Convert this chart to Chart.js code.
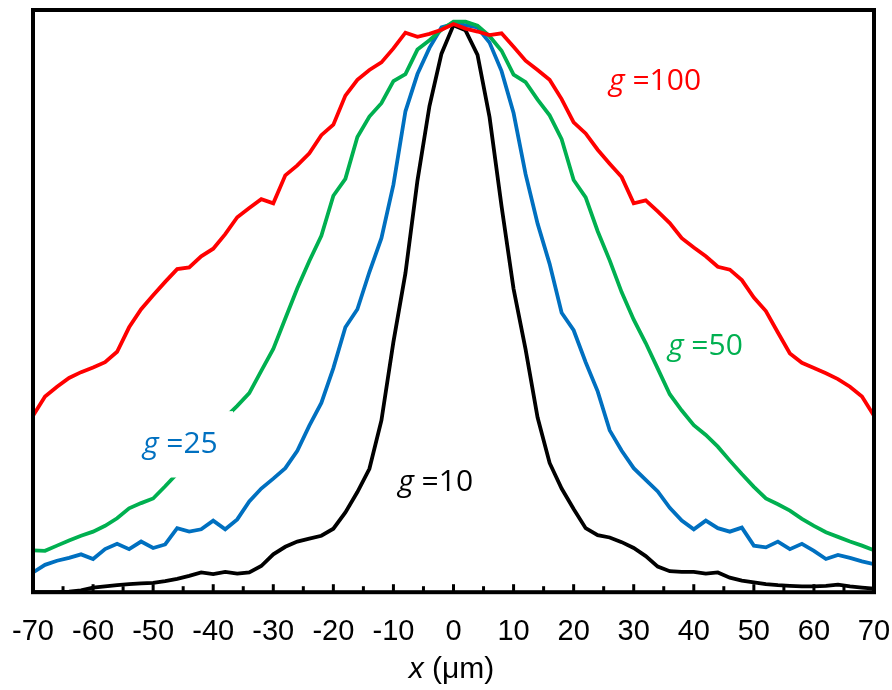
<!DOCTYPE html>
<html>
<head>
<meta charset="utf-8">
<script src="https://cdn.jsdelivr.net/npm/chart.js@4.4.1/dist/chart.umd.min.js"></script>
<style>
  html, body { margin: 0; padding: 0; background: #fff; }
  #wrap { width: 892px; height: 690px; }
</style>
</head>
<body>
<div id="wrap"><canvas id="profileChart"></canvas></div>
<script>
// position across the channel, µm
const xPos = [
  -70, -68, -66, -64, -62, -60, -58, -56, -54, -52, -50, -48, -46, -44, -42, -40, -38, -36,
  -34, -32, -30, -28, -26, -24, -22, -20, -18, -16, -14, -12, -10, -8, -6, -4, -2,
  0, 2, 4, 6, 8, 10, 12, 14, 16, 18, 20, 22, 24, 26, 28, 30, 32, 34,
  36, 38, 40, 42, 44, 46, 48, 50, 52, 54, 56, 58, 60, 62, 64, 66, 68, 70
];

// intensity profiles (arbitrary units, 0-100 box height)
const g100 = [
  30.3, 33.6, 35.3, 36.8, 37.8, 38.6, 39.5, 41.3, 45.5, 48.6, 51.0, 53.3, 55.5, 55.8, 57.7, 59.0, 61.5, 64.4,
  66.0, 67.5, 66.8, 71.6, 73.3, 75.4, 78.5, 80.3, 85.3, 88.0, 89.7, 91.0, 93.4, 96.1, 95.4, 95.9, 96.6,
  97.6, 96.8, 96.3, 95.7, 96.0, 93.7, 91.3, 89.7, 88.0, 84.7, 80.7, 78.8, 76.0, 73.6, 71.3, 66.8, 67.3, 65.4,
  63.4, 60.8, 59.2, 57.7, 55.9, 55.4, 53.6, 50.6, 48.3, 44.6, 41.0, 39.4, 38.5, 37.6, 36.6, 35.3, 33.6, 30.3
];
const g50 = [
  7.2, 7.1, 8.0, 8.9, 9.7, 10.4, 11.4, 12.7, 14.4, 15.3, 16.1, 18.2, 20.4, 22.8, 25.2, 27.6, 30.0, 32.0,
  34.2, 38.0, 41.8, 47.0, 52.2, 56.9, 61.2, 68.1, 71.0, 78.2, 81.7, 84.0, 87.8, 89.0, 93.2, 94.8, 96.6,
  98.0, 98.0, 97.3, 95.5, 93.0, 88.9, 87.6, 84.6, 81.9, 77.8, 70.8, 67.8, 62.0, 57.0, 51.5, 46.8, 42.8, 38.4,
  34.0, 31.2, 28.7, 27.0, 25.0, 22.6, 20.3, 18.1, 16.1, 15.1, 14.0, 12.6, 11.4, 10.3, 9.5, 8.7, 8.0, 7.2
];
const g25 = [
  3.4, 4.7, 5.4, 5.9, 6.5, 5.7, 7.4, 8.3, 7.4, 8.7, 7.6, 8.2, 11.0, 10.4, 10.8, 12.3, 10.8, 12.5,
  15.6, 17.8, 19.5, 21.3, 24.3, 28.6, 32.5, 38.5, 45.5, 48.6, 55.0, 60.8, 70.0, 82.6, 89.0, 93.5, 97.0,
  97.6, 97.4, 97.0, 94.4, 89.5, 82.3, 71.8, 63.3, 56.4, 48.0, 45.0, 39.5, 34.5, 27.8, 24.3, 21.3, 19.3, 17.3,
  14.5, 12.3, 10.8, 12.3, 11.0, 10.4, 11.1, 8.0, 7.7, 8.7, 7.4, 8.3, 7.1, 5.7, 6.4, 5.9, 5.3, 4.8
];
const g10 = [
  0.0, 0.0, 0.0, 0.1, 0.3, 0.8, 1.0, 1.2, 1.4, 1.5, 1.6, 1.9, 2.3, 2.8, 3.4, 3.1, 3.5, 3.2,
  3.4, 4.5, 6.5, 7.8, 8.7, 9.2, 9.7, 10.9, 13.7, 17.2, 21.2, 29.5, 43.0, 54.8, 70.7, 83.5, 92.5,
  97.4, 96.5, 92.3, 81.6, 66.3, 52.1, 41.7, 30.0, 22.2, 17.8, 14.3, 11.0, 9.8, 9.4, 8.6, 7.6, 6.2, 4.4,
  3.6, 3.5, 3.5, 3.2, 3.4, 2.5, 2.0, 1.7, 1.4, 1.2, 1.1, 1.0, 1.0, 1.1, 1.3, 1.0, 0.8, 0.6
];

const seriesNames = ["g =100", "g =50", "g =25", "g =10"];
const seriesColors = ["#ff0000", "#00b050", "#0070c0", "#000000"];

const toPoints = (vals) => xPos.map((x, i) => ({ x: x, y: vals[i] }));

// curve labels, placed in data units
const curveTags = [
  { num: "=100", x: 25.9, y: 86.3, color: seriesColors[0] },
  { num: "=50", x: 35.7, y: 40.7, color: seriesColors[1] },
  { num: "=25", x: -51.7, y: 23.9, color: seriesColors[2], box: [-53.0, -36.7, 19.7, 31.1] },
  { num: "=10", x: -9.2, y: 17.4, color: seriesColors[3] }
];

const decorations = {
  id: "decorations",
  afterDatasetsDraw(chart) {
    const { ctx, chartArea: a, scales: { x, y } } = chart;
    ctx.save();

    // labels (g=25 sits on a white box that hides the green line)
    curveTags.forEach((t) => {
      if (t.box) {
        ctx.fillStyle = "#fff";
        const x0 = x.getPixelForValue(t.box[0]), x1 = x.getPixelForValue(t.box[1]);
        const y0 = y.getPixelForValue(t.box[3]), y1 = y.getPixelForValue(t.box[2]);
        ctx.fillRect(x0, y0, x1 - x0, y1 - y0);
      }
      const px = x.getPixelForValue(t.x), py = y.getPixelForValue(t.y);
      ctx.fillStyle = t.color;
      ctx.textBaseline = "alphabetic";
      ctx.textAlign = "left";
      ctx.font = "italic 30px 'Open Sans'";
      ctx.fillText("g", px, py);
      const w = ctx.measureText("g").width;
      ctx.font = "30px 'Open Sans'";
      ctx.fillText(" " + t.num, px + w, py);
    });

    // frame
    ctx.strokeStyle = "#000";
    ctx.lineWidth = 4;
    ctx.strokeRect(a.left, a.top, a.right - a.left, a.bottom - a.top);

    // inside tick marks every 5 µm
    ctx.lineWidth = 3;
    for (let v = -65; v <= 65; v += 5) {
      const px = x.getPixelForValue(v);
      const len = v % 10 === 0 ? 8 : 6;
      ctx.beginPath();
      ctx.moveTo(px, a.bottom);
      ctx.lineTo(px, a.bottom - len);
      ctx.stroke();
    }

    // axis title with italic x
    ctx.fillStyle = "#000";
    ctx.textBaseline = "middle";
    ctx.font = "italic 30px 'Liberation Sans'";
    const wx = ctx.measureText("x").width;
    ctx.font = "30px 'Liberation Sans'";
    const wr = ctx.measureText(" (μm)").width;
    const cx = (a.left + a.right) / 2 - 2;
    const startX = cx - (wx + wr) / 2;
    const ty = 670;
    ctx.font = "italic 30px 'Liberation Sans'";
    ctx.fillText("x", startX, ty);
    ctx.font = "30px 'Liberation Sans'";
    ctx.fillText(" (μm)", startX + wx, ty);

    ctx.restore();
  }
};

new Chart(document.getElementById("profileChart"), {
  type: "line",
  data: {
    datasets: [g100, g50, g25, g10].map((vals, i) => ({
      label: seriesNames[i],
      data: toPoints(vals),
      borderColor: seriesColors[i],
      borderWidth: 3.8,
      pointRadius: 0,
      tension: 0,
      fill: false,
    })),
  },
  options: {
    responsive: true,
    maintainAspectRatio: false,
    animation: false,
    layout: { padding: { left: 33, right: 18, top: 10, bottom: 19 } },
    plugins: { legend: { display: false }, tooltip: { enabled: false } },
    scales: {
      x: {
        type: "linear",
        min: -70,
        max: 70,
        grid: { display: false, drawTicks: false },
        border: { display: false },
        ticks: {
          stepSize: 10,
          padding: 22,
          color: "#000",
          font: { family: "'Liberation Sans'", size: 29 },
          maxRotation: 0,
        },
        afterFit(scale) {
          // edge labels may overhang; keep the plot box where the layout padding puts it
          scale.paddingLeft = 0;
          scale.paddingRight = 0;
        },
      },
      y: {
        display: false,
        min: 0,
        max: 100,
      },
    },
  },
  plugins: [decorations],
});
</script>
</body>
</html>
